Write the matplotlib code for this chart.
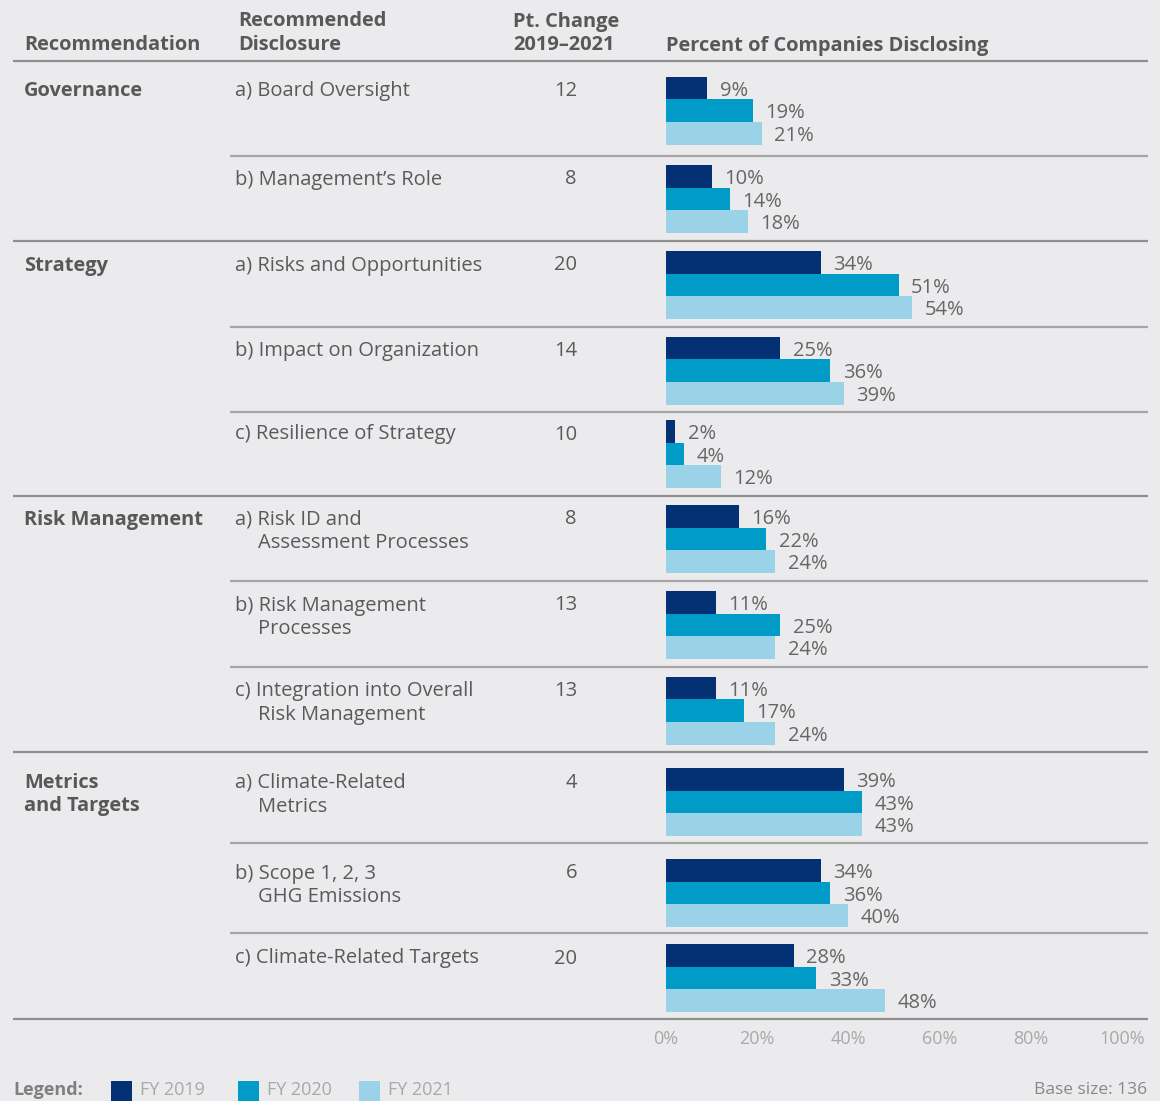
import matplotlib
matplotlib.use("Agg")
import matplotlib.pyplot as plt
from matplotlib.patches import Rectangle

# ---------------- data ----------------
recommendations = ["Governance", "Strategy", "Risk Management", "Metrics\nand Targets"]
section_rows = [[0, 1], [2, 3, 4], [5, 6, 7], [8, 9, 10]]
disclosure_line1 = ["a) Board Oversight", "b) Management\u2019s Role",
                    "a) Risks and Opportunities", "b) Impact on Organization",
                    "c) Resilience of Strategy", "a) Risk ID and",
                    "b) Risk Management", "c) Integration into Overall",
                    "a) Climate-Related", "b) Scope 1, 2, 3",
                    "c) Climate-Related Targets"]
disclosure_line2 = ["", "", "", "", "", "Assessment Processes", "Processes",
                    "Risk Management", "Metrics", "GHG Emissions", ""]
pt_change = [12, 8, 20, 14, 10, 8, 13, 13, 4, 6, 20]
fy2019 = [9, 10, 34, 25, 2, 16, 11, 11, 39, 34, 28]
fy2020 = [19, 14, 51, 36, 4, 22, 25, 17, 43, 36, 33]
fy2021 = [21, 18, 54, 39, 12, 24, 24, 24, 43, 40, 48]
series_labels = ["FY 2019", "FY 2020", "FY 2021"]
x_ticks = [0, 20, 40, 60, 80, 100]
tick_labels = ["0%", "20%", "40%", "60%", "80%", "100%"]

# ---------------- layout (pixels) ----------------
W, H = 1160, 1101
BG = "#ebebed"
colors = ["#033174", "#009bc6", "#9ad2e7"]
row_tops = [76.7, 165, 251, 336.7, 420, 505, 591, 676.7, 768, 859, 944]
sub_seps = [155.7, 326.7, 412.3, 581, 666.7, 843.3, 933.3]
sec_seps = [61, 241, 495.7, 752.3, 1019.3]
bar_h = 22.7
x0_px, x100_px = 666, 1122
body_top, body_bot = 61, 1019.3

FONT = ["Open Sans", "DejaVu Sans"]
plt.rcParams["font.family"] = FONT
TXT = "#5a5a5a"
HDR = "#585858"

fig = plt.figure(figsize=(W / 100, H / 100), dpi=100, facecolor=BG)

# full-figure axes in pixel coordinates for table text and rules
at = fig.add_axes([0, 0, 1, 1])
at.set_xlim(0, W)
at.set_ylim(H, 0)
at.axis("off")
at.set_facecolor(BG)

# bar axes
ax = fig.add_axes([x0_px / W, 1 - body_bot / H, (x100_px - x0_px) / W,
                   (body_bot - body_top) / H])
ax.set_facecolor("none")
ax.set_xlim(0, 100)
ax.set_ylim(body_bot, body_top)
for s in ax.spines.values():
    s.set_visible(False)
ax.set_yticks([])
ax.set_xticks(x_ticks)
ax.set_xticklabels(tick_labels)
ax.tick_params(axis="x", length=0, pad=8, labelsize=13, labelcolor="#a9a9a9")

# rules
for y in sec_seps:
    at.plot([13, 1147.5], [y, y], color="#8f8f8f", lw=1.6, solid_capstyle="butt")
for y in sub_seps:
    at.plot([230, 1147.5], [y, y], color="#a5a5a5", lw=1.6, solid_capstyle="butt")

# headers
hs = 14.4
HW = "bold"
at.text(24, 43, "Recommendation", fontsize=hs, fontweight=HW, color=HDR,
        va="center_baseline")
at.text(238, 19, "Recommended", fontsize=hs, fontweight=HW, color=HDR,
        va="center_baseline")
at.text(238, 43, "Disclosure", fontsize=hs, fontweight=HW, color=HDR,
        va="center_baseline")
at.text(566, 19, "Pt. Change", fontsize=hs, fontweight=HW, color=HDR,
        va="center_baseline", ha="center")
at.text(564, 43, "2019\u20132021", fontsize=hs, fontweight=HW, color=HDR,
        va="center_baseline", ha="center")
at.text(666, 43, "Percent of Companies Disclosing", fontsize=hs,
        fontweight=HW, color=HDR, va="center_baseline")

# section labels
bs = 14.5
for name, rows in zip(recommendations, section_rows):
    y = row_tops[rows[0]] + 12
    for k, ln in enumerate(name.split("\n")):
        at.text(24, y + 24 * k, ln, fontsize=hs, fontweight=HW, color=HDR,
                va="center_baseline")

# disclosure text and pt change
for i in range(len(row_tops)):
    y = row_tops[i] + 12
    at.text(235, y, disclosure_line1[i], fontsize=bs, color=TXT, va="center_baseline")
    if disclosure_line2[i]:
        at.text(258, y + 24, disclosure_line2[i], fontsize=bs, color=TXT,
                va="center_baseline")
    at.text(577, y, str(pt_change[i]), fontsize=bs, color=TXT, va="center_baseline",
            ha="right")

# bars
for j, vals in enumerate([fy2019, fy2020, fy2021]):
    ys = [t + bar_h * j for t in row_tops]
    ax.barh(ys, vals, height=bar_h, align="edge", color=colors[j], lw=0)
    for yv, v in zip(ys, vals):
        ax.annotate(f"{v}%", (v, yv + bar_h / 2), xytext=(9, 0),
                    textcoords="offset points", va="center_baseline", ha="left",
                    fontsize=bs, color="#666666")

# legend
ly = 1088
at.text(13, ly, "Legend:", fontsize=13, fontweight="bold", color="#808080",
        va="center_baseline")
leg_x = [111, 238, 359]
for lx, c, lab in zip(leg_x, colors, series_labels):
    at.add_patch(Rectangle((lx, 1081), 20.5, 21, color=c, lw=0, clip_on=False))
    at.text(lx + 29, ly, lab, fontsize=13, color="#a9a9a9",
            va="center_baseline")
at.text(1147, ly, "Base size: 136", fontsize=12.5, color="#888888",
        va="center_baseline", ha="right")

fig.savefig("out.png", dpi=100, facecolor=BG)
